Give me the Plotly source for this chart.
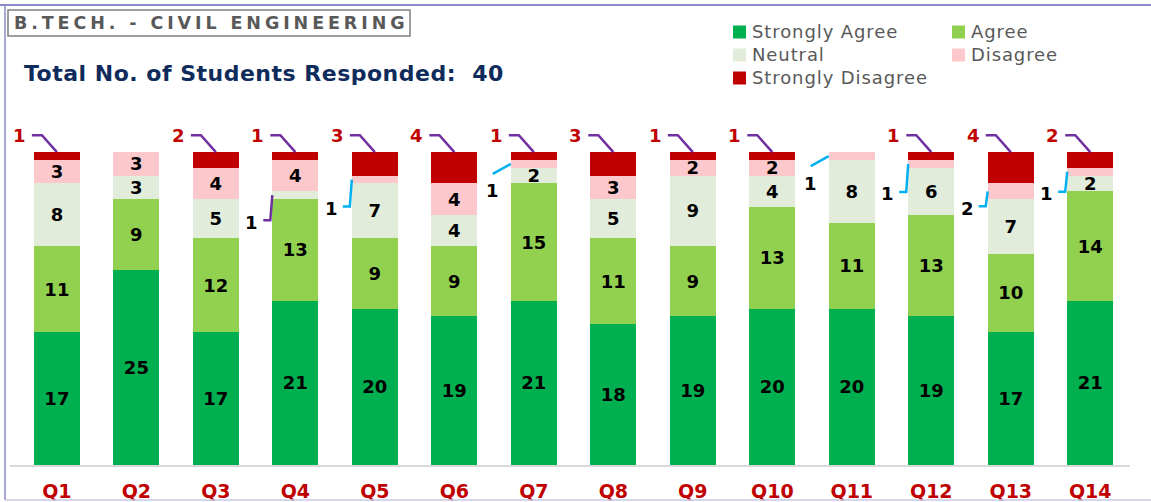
import plotly.graph_objects as go

# ---------------- data ----------------
questions = ["Q1", "Q2", "Q3", "Q4", "Q5", "Q6", "Q7", "Q8", "Q9", "Q10", "Q11", "Q12", "Q13", "Q14"]
strongly_agree = [17, 25, 17, 21, 20, 19, 21, 18, 19, 20, 20, 19, 17, 21]
agree = [11, 9, 12, 13, 9, 9, 15, 11, 9, 13, 11, 13, 10, 14]
neutral = [8, 3, 5, 1, 7, 4, 2, 5, 9, 4, 8, 6, 7, 2]
disagree = [3, 3, 4, 4, 1, 4, 1, 3, 2, 2, 1, 1, 2, 1]
strongly_disagree = [1, 0, 2, 1, 3, 4, 1, 3, 1, 1, 0, 1, 4, 2]
series_names = ["Strongly Agree", "Agree", "Neutral", "Disagree", "Strongly Disagree"]
total_students = 40
title_text = "B.TECH. - CIVIL ENGINEERING"

# ---------------- style / layout ----------------
colors = ["#00B050", "#92D050", "#E2ECDA", "#FCC8CB", "#C00000"]
W, H = 1151, 502
L, R, T, B = 10, 21, 74, 37
XR = [-0.59, 13.5]
YR = [0, 50]
PW, PH = W - L - R, H - T - B
SX = PW / (XR[1] - XR[0])   # px per x unit
SY = PH / (YR[1] - YR[0])   # px per y unit
BARW = 0.58
HALF = BARW / 2
PURPLE = "#7030A0"
CYAN = "#00B0F0"
FONT = "DejaVu Sans"
NUM_SIZE = 18

def pxx(px):
    return (px - L) / PW

def pxy(py):
    return (H - B - py) / PH

# callouts for small segments shown outside the bar: (question idx, series idx, kind, drop px, colour)
outside = [
    (3, 2, "elbow", 25, PURPLE),
    (4, 3, "elbow", 27, CYAN),
    (6, 3, "diag", 0, CYAN),
    (10, 3, "diag", 0, CYAN),
    (11, 3, "elbow", 28, CYAN),
    (12, 3, "elbow", 15, CYAN),
    (13, 3, "elbow", 20, CYAN),
]
outside_set = {(q, s) for q, s, *_ in outside}

all_series = [strongly_agree, agree, neutral, disagree, strongly_disagree]
xs = list(range(len(questions)))

fig = go.Figure()
for s, (name, vals, col) in enumerate(zip(series_names, all_series, colors)):
    txt = []
    for q, v in enumerate(vals):
        if s == 4 or v == 0 or (q, s) in outside_set:
            txt.append("")
        else:
            txt.append(str(v))
    fig.add_trace(go.Bar(
        x=xs, y=vals, name=name, width=BARW,
        marker=dict(color=col, line=dict(width=0)),
        text=txt, textposition="inside", insidetextanchor="middle", textangle=0,
        textfont=dict(family=FONT, size=NUM_SIZE, color="black", weight="bold"),
        showlegend=False, hoverinfo="skip",
    ))

annotations = []

def seg_bounds(q, s):
    lo = sum(all_series[k][q] for k in range(s))
    return lo, lo + all_series[s][q]

# strongly disagree callouts on top
for q, v in enumerate(strongly_disagree):
    if v <= 0:
        continue
    top = seg_bounds(q, 4)[1]
    ky = top + 17 / SY
    fig.add_trace(go.Scatter(
        x=[q, q - 15 / SX, q - 25 / SX], y=[top, ky, ky], mode="lines",
        line=dict(color=PURPLE, width=2.5), showlegend=False, hoverinfo="skip"))
    annotations.append(dict(x=q - 29 / SX, y=ky, xref="x", yref="y", text=str(v),
                            showarrow=False, xanchor="right", yanchor="middle",
                            font=dict(family=FONT, size=NUM_SIZE, color="#C00000", weight="bold")))

# small-segment callouts
for q, s, kind, drop, col in outside:
    lo, hi = seg_bounds(q, s)
    mid = (lo + hi) / 2
    x0 = q - HALF
    if kind == "elbow":
        ey = mid - drop / SY
        px = [x0, x0 - 2 / SX, x0 - 9 / SX]
        py = [mid, ey, ey]
        ann = dict(x=x0 - 12 / SX, y=ey - 2 / SY, xanchor="right", yanchor="middle")
    else:
        ex, ey = x0 - 18 / SX, mid - 10 / SY
        px = [x0, ex]
        py = [mid, ey]
        ann = dict(x=ex, y=ey - 17 / SY, xanchor="center", yanchor="middle")
    fig.add_trace(go.Scatter(x=px, y=py, mode="lines", line=dict(color=col, width=2.5),
                             showlegend=False, hoverinfo="skip"))
    ann.update(xref="x", yref="y", text=str(all_series[s][q]), showarrow=False,
               font=dict(family=FONT, size=NUM_SIZE, color="black", weight="bold"))
    annotations.append(ann)

# title texts
annotations.append(dict(x=pxx(12), y=pxy(23), xref="paper", yref="paper",
                        text='<span style="letter-spacing:3.9px">' + title_text + '</span>',
                        showarrow=False, xanchor="left", yanchor="middle",
                        font=dict(family=FONT, size=17.5, color="#595959", weight="bold")))
annotations.append(dict(x=pxx(22), y=pxy(73), xref="paper", yref="paper",
                        text='<span style="letter-spacing:0.5px">Total No. of Students Responded:\u00a0 '
                             + str(total_students) + '</span>',
                        showarrow=False, xanchor="left", yanchor="middle",
                        font=dict(family=FONT, size=22, color="#0F2B5B", weight="bold")))

# manual legend (2 columns)
shapes = []
legend_pos = [(733, 32), (952, 32), (733, 55), (952, 55), (733, 78)]
for name, col, (lx, ly) in zip(series_names, colors, legend_pos):
    shapes.append(dict(type="rect", xref="paper", yref="paper",
                       x0=pxx(lx), x1=pxx(lx + 13), y0=pxy(ly - 6.5), y1=pxy(ly + 6.5),
                       fillcolor=col, line=dict(width=0)))
    annotations.append(dict(x=pxx(lx + 17), y=pxy(ly), xref="paper", yref="paper",
                            text='<span style="letter-spacing:0.9px">' + name + '</span>',
                            showarrow=False, xanchor="left", yanchor="middle",
                            font=dict(family=FONT, size=18, color="#595959")))

# title box and frame
shapes.append(dict(type="rect", xref="paper", yref="paper",
                   x0=pxx(8), x1=pxx(410), y0=pxy(36), y1=pxy(10),
                   line=dict(color="#7F7F7F", width=1.5), fillcolor="rgba(0,0,0,0)"))
frame = "#8C8CC8"
shapes.append(dict(type="line", xref="paper", yref="paper", x0=pxx(0), x1=pxx(W),
                   y0=pxy(5), y1=pxy(5), line=dict(color=frame, width=2)))
shapes.append(dict(type="line", xref="paper", yref="paper", x0=pxx(5), x1=pxx(5),
                   y0=pxy(5), y1=pxy(500), line=dict(color=frame, width=1.5)))
shapes.append(dict(type="line", xref="paper", yref="paper", x0=pxx(5), x1=pxx(W),
                   y0=pxy(500), y1=pxy(500), line=dict(color="#C8C8E6", width=1.5)))

fig.update_layout(
    width=W, height=H, margin=dict(l=L, r=R, t=T, b=B, autoexpand=False),
    barmode="stack", bargap=0.42,
    paper_bgcolor="white", plot_bgcolor="white",
    uniformtext=dict(minsize=NUM_SIZE, mode="show"),
    annotations=annotations, shapes=shapes, showlegend=False,
    xaxis=dict(range=XR, tickmode="array", tickvals=xs, ticktext=questions,
               showline=True, linecolor="#D9D9D9", linewidth=1.5, showgrid=False,
               zeroline=False, ticks="", ticklabelstandoff=8, automargin=False,
               tickfont=dict(family=FONT, size=19, color="#C00000", weight="bold")),
    yaxis=dict(range=YR, visible=False, showgrid=False, zeroline=False, automargin=False),
)

fig.write_html("out.html", config={"displayModeBar": False},
               post_script="document.body.style.margin='0px';")
